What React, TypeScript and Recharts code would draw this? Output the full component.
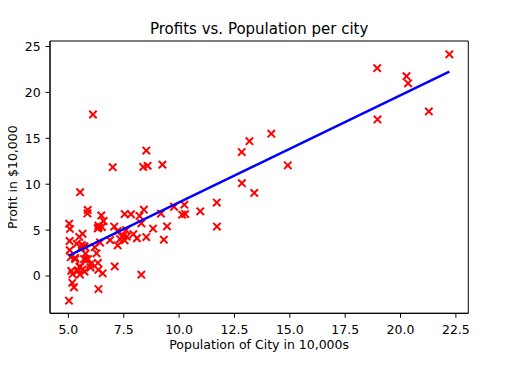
import React from 'react';
import { ComposedChart, Scatter, XAxis, YAxis, Label, ReferenceArea } from 'recharts';

const population = [6.1101,5.5277,8.5186,7.0032,5.8598,8.3829,7.4764,8.5781,6.4862,5.0546,5.7107,14.164,5.734,8.4084,5.6407,5.3794,6.3654,5.1301,6.4296,7.0708,6.1891,20.27,5.4901,6.3261,5.5649,18.945,12.828,10.957,13.176,22.203,5.2524,6.5894,9.2482,5.8918,8.2111,7.9334,8.0959,5.6063,12.836,6.3534,5.4069,6.8825,11.708,5.7737,7.8247,7.0931,5.0702,5.8014,11.7,5.5416,7.5402,5.3077,7.4239,7.6031,6.3328,6.3589,6.2742,5.6397,9.3102,9.4536,8.8254,5.1793,21.279,14.908,18.959,7.2182,8.2951,10.236,5.4994,20.341,10.136,7.3345,6.0062,7.2259,5.0269,6.5479,7.5386,5.0365,10.274,5.1077,5.7292,5.1884,6.3557,9.7687,6.5159,8.5172,9.1802,6.002,5.5204,5.0594,5.7077,7.6366,5.8707,5.3054,8.2934,13.394,5.4369];
const profit = [17.592,9.1302,13.662,11.854,6.8233,11.886,4.3483,12,6.5987,3.8166,3.2522,15.505,3.1551,7.2258,0.71618,3.5129,5.3048,0.56077,3.6518,5.3893,3.1386,21.767,4.263,5.1875,3.0825,22.638,13.501,7.0467,14.692,24.147,-1.22,5.9966,12.134,1.8495,6.5426,4.5623,4.1164,3.3928,10.117,5.4974,0.55657,3.9115,5.3854,2.4406,6.7318,1.0463,5.1337,1.844,8.0043,1.0179,6.7504,1.8396,4.2885,4.9981,1.4233,-1.4211,2.4756,4.6042,3.9624,5.4141,5.1694,-0.74279,17.929,12.054,17.054,4.8852,5.7442,7.7754,1.0173,20.992,6.6799,4.0259,1.2784,3.3411,-2.6807,0.29678,3.8845,5.7014,6.7526,2.0576,0.47953,0.20421,0.67861,7.5435,5.3436,4.2415,6.7981,0.92695,0.152,2.8214,1.8451,4.2959,7.2029,1.9869,0.14454,9.0551,0.61705];

const fitX = [5.0269, 22.203];
const fitY = [2.2332, 22.267];

const xTicks = [5, 7.5, 10, 12.5, 15, 17.5, 20, 22.5];
const yTicks = [0, 5, 10, 15, 20, 25];
const xDomain = [4.17, 23.06];
const yDomain = [-4.06, 25.6];

const titleText = 'Profits vs. Population per city';
const xLabelText = 'Population of City in 10,000s';
const yLabelText = 'Profit in $10,000';

const points = population.map((x, i) => ({ x, y: profit[i] }));
const fitLine = fitX.map((x, i) => ({ x, y: fitY[i] }));

const FONT = 'DejaVu Sans, sans-serif';
const W = 523;
const H = 352;
const M = { top: 33, right: 54.7, bottom: 16.7, left: 8 };
const Y_W = 42;
const X_H = 30;
const plotLeft = M.left + Y_W;
const plotRight = W - M.right;
const plotTop = M.top;
const plotBottom = H - M.bottom - X_H;
const plotCx = (plotLeft + plotRight) / 2;
const plotCy = (plotTop + plotBottom) / 2;

const XMark = (props: any) => {
  const { cx, cy } = props;
  if (cx == null || cy == null) return null;
  const r = 3.7;
  return (
    <g stroke="#ff0000" strokeWidth={2}>
      <line x1={cx - r} y1={cy - r} x2={cx + r} y2={cy + r} />
      <line x1={cx - r} y1={cy + r} x2={cx + r} y2={cy - r} />
    </g>
  );
};

const NoShape = () => null;

const yLabX = plotLeft - 32.8;

const TitleContent = () => (
  <text x={plotCx} y={plotTop - 7.5} textAnchor="middle" fill="#000" fontSize={15} fontFamily={FONT}>{titleText}</text>
);
const XLabelContent = () => (
  <text x={plotCx} y={plotBottom + 35.7} textAnchor="middle" fill="#000" fontSize={12.5} fontFamily={FONT}>{xLabelText}</text>
);
const YLabelContent = () => (
  <text x={yLabX} y={plotCy} textAnchor="middle" fill="#000" fontSize={12.5} fontFamily={FONT} transform={`rotate(-90, ${yLabX}, ${plotCy})`}>{yLabelText}</text>
);

export default function App() {
  return (
    <div style={{ width: W, height: H, marginLeft: -8 }}>
      <ComposedChart width={W} height={H} margin={M} style={{ overflow: 'visible' }}>
        <XAxis
          xAxisId="b"
          dataKey="x"
          type="number"
          domain={xDomain}
          ticks={xTicks}
          tickFormatter={(v: number) => v.toFixed(1)}
          allowDataOverflow
          height={X_H}
          tickSize={4.4}
          tickMargin={7}
          tick={{ fill: '#000', fontSize: 12.5, fontFamily: FONT }}
          tickLine={{ stroke: '#000', strokeWidth: 1 }}
          axisLine={{ stroke: '#000', strokeWidth: 1 }}
        >
          <Label content={XLabelContent} />
        </XAxis>
        <YAxis
          yAxisId="l"
          dataKey="y"
          type="number"
          domain={yDomain}
          ticks={yTicks}
          allowDataOverflow
          width={Y_W}
          tickSize={4.4}
          tickMargin={5}
          tick={{ fill: '#000', fontSize: 12.5, fontFamily: FONT }}
          tickLine={{ stroke: '#000', strokeWidth: 1 }}
          axisLine={{ stroke: '#000', strokeWidth: 1 }}
        >
          <Label content={YLabelContent} />
          <Label content={TitleContent} />
        </YAxis>
        <ReferenceArea xAxisId="b" yAxisId="l" x1={xDomain[0]} x2={xDomain[1]} y1={yDomain[0]} y2={yDomain[1]} fill="none" stroke="#000" strokeWidth={1} ifOverflow="visible" />
        <Scatter xAxisId="b" yAxisId="l" data={points} shape={XMark} isAnimationActive={false} />
        <Scatter xAxisId="b" yAxisId="l" data={fitLine} shape={NoShape} line={{ stroke: '#0000ff', strokeWidth: 2.5 }} isAnimationActive={false} />
      </ComposedChart>
    </div>
  );
}
